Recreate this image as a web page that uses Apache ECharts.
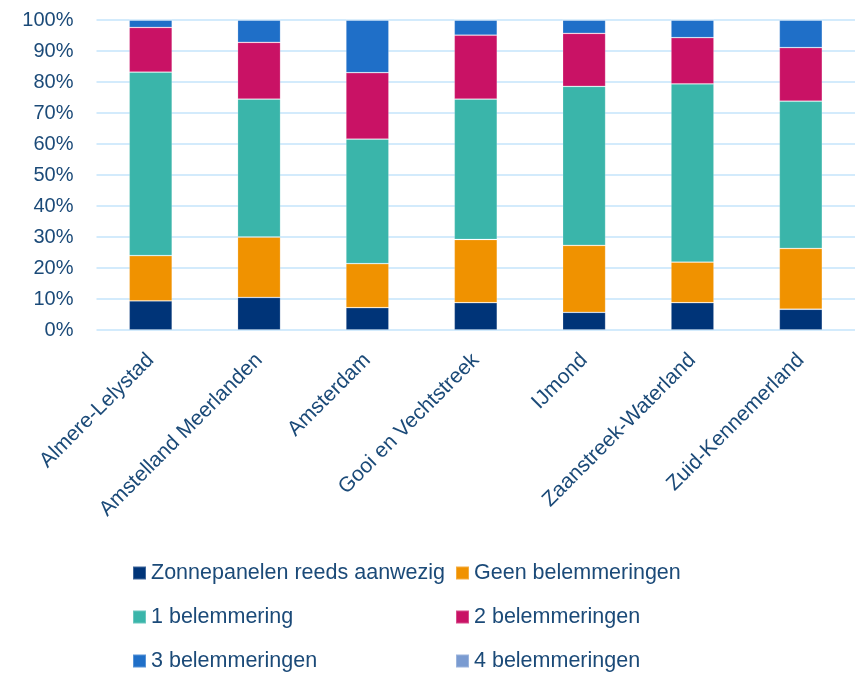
<!DOCTYPE html>
<html>
<head>
<meta charset="utf-8">
<script src="https://cdn.jsdelivr.net/npm/echarts@6/dist/echarts.min.js"></script>
<style>html,body{margin:0;padding:0;background:#fff}#c{width:855px;height:673px}</style>
</head>
<body>
<div id="c"></div>
<script>
var categories = ['Almere-Lelystad', 'Amstelland Meerlanden', 'Amsterdam', 'Gooi en Vechtstreek', 'IJmond', 'Zaanstreek-Waterland', 'Zuid-Kennemerland'];
var seriesNames = ['Zonnepanelen reeds aanwezig', 'Geen belemmeringen', '1 belemmering', '2 belemmeringen', '3 belemmeringen', '4 belemmeringen'];
var zonnepanelen = [9.4, 10.5, 7.2, 8.8, 5.7, 8.8, 6.7];
var geen = [14.6, 19.5, 14.2, 20.4, 21.6, 13.1, 19.6];
var een = [59.2, 44.5, 40.2, 45.3, 51.3, 57.5, 47.5];
var twee = [14.4, 18.3, 21.4, 20.6, 17.1, 14.9, 17.3];
var drie = [2.4, 7.2, 17.0, 4.9, 4.3, 5.7, 8.9];
var vier = [0, 0, 0, 0, 0, 0, 0];
var yTicks = [0, 10, 20, 30, 40, 50, 60, 70, 80, 90, 100];

var colors = ['#003478', '#F09200', '#3AB5AA', '#C91265', '#1F6FC8', '#7A9BD1'];
var dataSets = [zonnepanelen, geen, een, twee, drie, vier];
var textColor = '#1B4A78';
var font = '"Liberation Sans", Arial, sans-serif';

var chart = echarts.init(document.getElementById('c'), null, {renderer: 'canvas'});
var series = seriesNames.map(function (n, i) {
  return {
    name: n, type: 'bar', stack: 'total', data: dataSets[i], barWidth: 43,
    itemStyle: {color: colors[i], borderColor: 'rgba(255,255,255,0.25)', borderWidth: 0.8},
    emphasis: {disabled: true}
  };
});
var legendCols = [132, 455];
var legendRows = [562, 606, 650];
var legends = seriesNames.map(function (n, i) {
  return {
    left: legendCols[i % 2], top: legendRows[Math.floor(i / 2)],
    data: [n], orient: 'horizontal', itemWidth: 13, itemHeight: 13, padding: 0,
    icon: 'rect', selectedMode: false,
    textStyle: {fontSize: 21.5, color: textColor, fontFamily: font}
  };
});
chart.setOption({
  animation: false,
  color: colors,
  grid: {left: 96.5, top: 20, width: 763, height: 310, containLabel: false},
  xAxis: {
    type: 'category', data: categories,
    axisLine: {show: false}, axisTick: {show: false},
    axisLabel: {rotate: 45, fontSize: 21, color: textColor, fontFamily: font, margin: 27, interval: 0}
  },
  yAxis: {
    type: 'value', min: yTicks[0], max: yTicks[yTicks.length - 1], interval: 10,
    axisLine: {show: false}, axisTick: {show: false},
    splitLine: {lineStyle: {color: '#C5E4FB', width: 1.5}},
    axisLabel: {formatter: '{value}%', fontSize: 20, color: textColor, fontFamily: font, margin: 23}
  },
  legend: legends,
  series: series
});
</script>
</body>
</html>
